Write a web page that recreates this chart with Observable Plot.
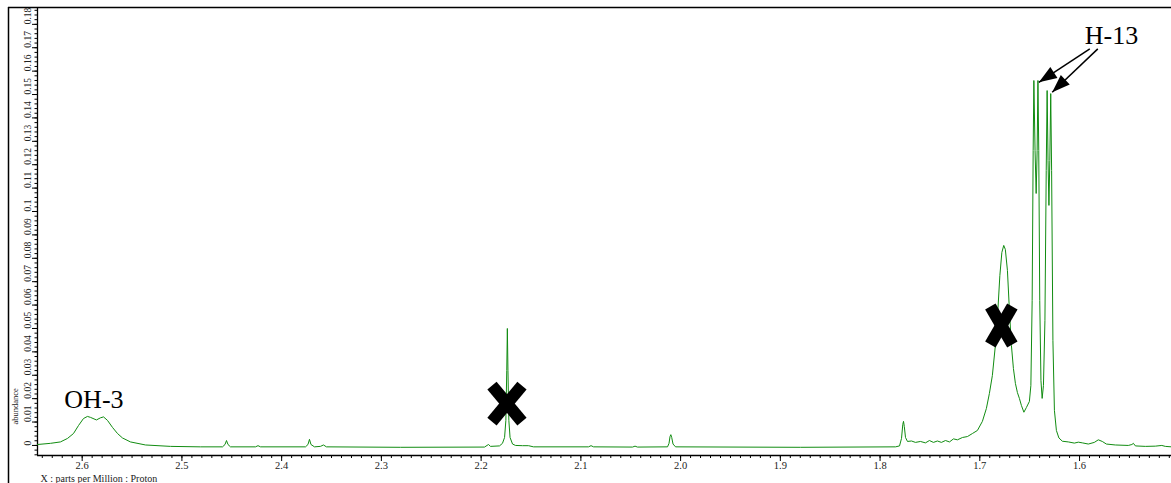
<!DOCTYPE html>
<html>
<head>
<meta charset="utf-8">
<script src="https://cdn.jsdelivr.net/npm/d3@7"></script>
<script src="https://cdn.jsdelivr.net/npm/@observablehq/plot@0.6"></script>
<style>
  html, body { margin: 0; padding: 0; background: #ffffff; }
  #chart svg { display: block; }
</style>
</head>
<body>
<div id="chart"></div>
<script>
// ---- Spectrum (chemical shift in ppm, abundance) ----
const spectrumPpm = [2.6448, 2.6318, 2.6218, 2.6147, 2.6087, 2.6037, 2.5987, 2.5947, 2.5917, 2.5857, 2.5817, 2.5786, 2.5746, 2.5696, 2.5646, 2.5596, 2.5516, 2.5365, 2.5115, 2.4814, 2.4593, 2.4568, 2.4553, 2.4538, 2.4513, 2.4262, 2.4237, 2.4212, 2.3761, 2.3736, 2.3721, 2.3706, 2.3671, 2.3611, 2.3581, 2.3551, 2.2808, 2.1966, 2.1941, 2.1926, 2.1906, 2.1816, 2.1786, 2.1765, 2.1752, 2.1743, 2.1737, 2.1731, 2.1722, 2.1710, 2.1685, 2.1655, 2.1585, 2.1525, 2.1475, 2.0923, 2.0898, 2.0873, 2.0482, 2.0457, 2.0432, 2.0131, 2.0116, 2.0106, 2.0098, 2.0089, 2.0076, 2.0051, 1.8797, 1.7845, 1.7805, 1.7785, 1.7772, 1.7765, 1.7757, 1.7745, 1.7725, 1.7685, 1.7645, 1.7595, 1.7545, 1.7505, 1.7465, 1.7425, 1.7385, 1.7344, 1.7304, 1.7264, 1.7224, 1.7174, 1.7124, 1.7074, 1.7024, 1.6974, 1.6934, 1.6904, 1.6874, 1.6844, 1.6819, 1.6799, 1.6779, 1.6760, 1.6744, 1.6723, 1.6703, 1.6683, 1.6663, 1.6643, 1.6623, 1.6603, 1.6583, 1.6558, 1.6533, 1.6503, 1.6488, 1.6475, 1.6465, 1.6458, 1.6446, 1.6435, 1.6425, 1.6417, 1.6409, 1.6399, 1.6387, 1.6375, 1.6362, 1.6347, 1.6334, 1.6325, 1.6316, 1.6307, 1.6298, 1.6289, 1.6280, 1.6267, 1.6252, 1.6232, 1.6207, 1.6172, 1.6112, 1.6052, 1.6012, 1.5972, 1.5912, 1.5852, 1.5812, 1.5772, 1.5731, 1.5641, 1.5511, 1.5475, 1.5460, 1.5440, 1.5340, 1.5240, 1.5175, 1.5140, 1.5079];
const spectrumAbundance = [0.0004, 0.0009, 0.0015, 0.0030, 0.0051, 0.0085, 0.0115, 0.0124, 0.0120, 0.0109, 0.0118, 0.0122, 0.0107, 0.0077, 0.0051, 0.0032, 0.0015, 0.0002, -0.0004, -0.0006, -0.0006, 0.0004, 0.0021, 0.0004, -0.0006, -0.0006, -0.0001, -0.0006, -0.0006, 0.0004, 0.0026, 0.0004, -0.0006, -0.0004, 0.0002, -0.0006, -0.0008, -0.0007, 0.0000, 0.0004, -0.0004, -0.0002, 0.0009, 0.0034, 0.0107, 0.0320, 0.0500, 0.0320, 0.0107, 0.0034, 0.0006, 0.0000, -0.0001, -0.0001, -0.0006, -0.0006, -0.0001, -0.0006, -0.0007, -0.0003, -0.0007, -0.0006, 0.0009, 0.0038, 0.0046, 0.0034, 0.0006, -0.0006, -0.0008, -0.0006, -0.0002, 0.0030, 0.0090, 0.0103, 0.0081, 0.0034, 0.0017, 0.0019, 0.0013, 0.0017, 0.0011, 0.0021, 0.0013, 0.0019, 0.0013, 0.0021, 0.0015, 0.0028, 0.0024, 0.0034, 0.0038, 0.0051, 0.0064, 0.0103, 0.0158, 0.0222, 0.0299, 0.0427, 0.0577, 0.0726, 0.0825, 0.0855, 0.0838, 0.0748, 0.0577, 0.0427, 0.0329, 0.0265, 0.0226, 0.0201, 0.0171, 0.0142, 0.0162, 0.0188, 0.0256, 0.0620, 0.1261, 0.1560, 0.1261, 0.1077, 0.1261, 0.1560, 0.1261, 0.0620, 0.0278, 0.0201, 0.0256, 0.0534, 0.1175, 0.1517, 0.1218, 0.1026, 0.1218, 0.1504, 0.1175, 0.0449, 0.0150, 0.0064, 0.0032, 0.0018, 0.0015, 0.0010, 0.0014, 0.0011, 0.0006, 0.0013, 0.0024, 0.0017, 0.0006, 0.0002, 0.0000, 0.0004, 0.0009, -0.0002, -0.0004, -0.0003, 0.0000, -0.0004, -0.0006];

// ---- Axes ----
const xDomain = [2.6448, 1.5078];
const yDomain = [-0.0043, 0.1872];
const xTickValues = [2.6, 2.5, 2.4, 2.3, 2.2, 2.1, 2.0, 1.9, 1.8, 1.7, 1.6];
const xTickLabels = ["2.6", "2.5", "2.4", "2.3", "2.2", "2.1", "2.0", "1.9", "1.8", "1.7", "1.6"];
const yTickValues = [0, 0.01, 0.02, 0.03, 0.04, 0.05, 0.06, 0.07, 0.08, 0.09, 0.1, 0.11, 0.12, 0.13, 0.14, 0.15, 0.16, 0.17, 0.18];
const yTickLabels = ["0", "0.01", "0.02", "0.03", "0.04", "0.05", "0.06", "0.07", "0.08", "0.09", "0.1", "0.11", "0.12", "0.13", "0.14", "0.15", "0.16", "0.17", "0.18"];
const xAxisTitle = "X : parts per Million : Proton";
const yAxisTitle = "abundance";

// ---- Annotations ----
const labelTexts = ["OH-3", "H-13"];
const labelPpm = [2.5882, 1.5679];
const labelAbundance = [0.0197, 0.1752];

const crossPpm = [2.1741, 1.6784];
const crossAbundance = [0.0179, 0.0513];

const arrowFromPpm = [1.5897, 1.5817];
const arrowFromAbundance = [0.1695, 0.1695];
const arrowToPpm = [1.6408, 1.6274];
const arrowToAbundance = [0.1552, 0.1510];

// ---- build tables ----
const spectrum = spectrumPpm.map((p, i) => ({ppm: p, abundance: spectrumAbundance[i]}));
const labels = labelTexts.map((t, i) => ({text: t, ppm: labelPpm[i], abundance: labelAbundance[i]}));
const xMinor = d3.range(151, 265).map(i => i / 100);
const yMinor = d3.range(-2, 94).map(i => i * 0.002);

// styling geometry
const W = 1171, H = 483;
const mL = 37, mR = 0, mT = 7, mB = 28;
const pxPerPpm = (W - mL - mR) / (xDomain[0] - xDomain[1]);
const pxPerUnit = (H - mT - mB) / (yDomain[1] - yDomain[0]);
// cross arm half-extents in pixels (style)
const crossArms = [[15, 18], [11, 19]];
const crossSegs = [];
crossPpm.forEach((p, i) => {
  const a = crossArms[i][0] / pxPerPpm, b = crossArms[i][1] / pxPerUnit;
  const v = crossAbundance[i];
  crossSegs.push({x1: p + a, y1: v + b, x2: p - a, y2: v - b});
  crossSegs.push({x1: p - a, y1: v + b, x2: p + a, y2: v - b});
});

const arrows = arrowFromPpm.map((p, i) => {
  const sx = -(arrowToPpm[i] - p) * pxPerPpm;        // screen dx (x axis reversed)
  const sy = -(arrowToAbundance[i] - arrowFromAbundance[i]) * pxPerUnit; // screen dy
  return {
    x1: p, y1: arrowFromAbundance[i],
    x2: arrowToPpm[i], y2: arrowToAbundance[i],
    angle: Math.atan2(sx, -sy) * 180 / Math.PI
  };
});

const serif = "Liberation Serif, Times New Roman, serif";
const green = "#118c11";

const chart = Plot.plot({
  width: W,
  height: H,
  marginLeft: mL,
  marginRight: mR,
  marginTop: mT,
  marginBottom: mB,
  style: {fontFamily: serif, fontSize: "10px", background: "#ffffff", color: "#000"},
  x: {domain: xDomain, label: null},
  y: {domain: yDomain, label: null},
  marks: [
    // outer frame lines
    Plot.ruleY([yDomain[1]], {insetLeft: -29, stroke: "#000", strokeWidth: 1.5}),
    Plot.ruleX([xDomain[0]], {dx: -29, insetBottom: -28, stroke: "#000", strokeWidth: 1.5}),
    // axis lines
    Plot.ruleX([xDomain[0]], {stroke: "#000", strokeWidth: 1.3}),
    Plot.ruleY([yDomain[0]], {stroke: "#000", strokeWidth: 1.3}),
    // ticks
    Plot.axisX(xMinor, {anchor: "bottom", tickSize: 3, tickFormat: () => "", label: null}),
    Plot.axisX(xTickValues, {anchor: "bottom", tickSize: 6, tickFormat: () => "", label: null}),
    Plot.axisY(yMinor, {anchor: "left", tickSize: 2.5, tickFormat: () => "", label: null}),
    Plot.axisY(yTickValues, {anchor: "left", tickSize: 5, tickFormat: () => "", label: null}),
    // tick labels
    Plot.text(xTickValues, {x: d => d, frameAnchor: "bottom", dy: 10, text: (d, i) => xTickLabels[i], fontSize: 10.5, fill: "#222", lineAnchor: "middle"}),
    Plot.text(yTickValues, {y: d => d, frameAnchor: "left", dx: -10, rotate: -90, text: (d, i) => yTickLabels[i], fontSize: 9.5, fill: "#222", lineAnchor: "middle"}),
    Plot.text([yAxisTitle], {frameAnchor: "bottom-left", dx: -22, dy: -31, rotate: -90, text: d => d, fontSize: 8.5, fill: "#222", lineAnchor: "middle"}),
    Plot.text([xAxisTitle], {frameAnchor: "bottom-left", dx: 3, dy: 23, text: d => d, fontSize: 10, fill: "#222", textAnchor: "start", lineAnchor: "middle"}),
    // spectrum
    Plot.line(spectrum, {x: "ppm", y: "abundance", stroke: green, strokeWidth: 1, curve: "linear"}),
    // crosses
    Plot.link(crossSegs, {x1: "x1", y1: "y1", x2: "x2", y2: "y2", stroke: "#000", strokeWidth: 12, strokeLinecap: "butt"}),
    // arrows
    Plot.link(arrows, {x1: "x1", y1: "y1", x2: "x2", y2: "y2", stroke: "#000", strokeWidth: 1.5}),
    Plot.vector(arrows, {x: "x2", y: "y2", rotate: "angle", length: 18, r: 6.5, shape: "spike", anchor: "end", fill: "#000", stroke: "none"}),
    // labels
    Plot.text(labels, {x: "ppm", y: "abundance", text: "text", fontSize: 26, fontFamily: serif, fill: "#000", lineAnchor: "middle"})
  ]
});
document.getElementById("chart").appendChild(chart);
</script>
</body>
</html>
